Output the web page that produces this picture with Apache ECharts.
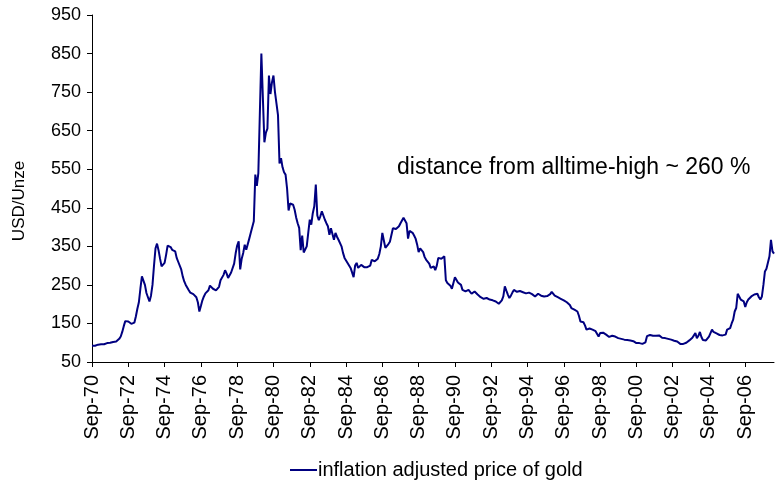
<!DOCTYPE html>
<html>
<head>
<meta charset="utf-8">
<script src="https://cdn.jsdelivr.net/npm/echarts@6/dist/echarts.min.js"></script>
<style>html,body{margin:0;padding:0;background:#fff}#c{width:776px;height:486px}</style>
</head>
<body>
<div id="c"></div>
<script>
// monthly, Sep-1970 .. Apr-2008
var startYear = 1970, startMonth = 8; // September (0-based)
var monthNames = ['Jan','Feb','Mar','Apr','May','Jun','Jul','Aug','Sep','Oct','Nov','Dec'];
var seriesName = 'inflation adjusted price of gold';
var yTicks = [50, 150, 250, 350, 450, 550, 650, 750, 850, 950];
var annotation = 'distance from alltime-high ~ 260 %';
var yAxisName = 'USD/Unze';

var goldPrice = [
 92, 93, 92, 94, 95, 94, 96, 97, 96, 98, 99, 98,
 100, 101, 102, 101, 103, 106, 110, 116, 128, 143, 156, 158,
 155, 152, 149, 150, 152, 168, 188, 205, 240, 272, 273, 250,
 229, 218, 207, 222, 250, 300, 345, 357, 340, 318, 298, 303,
 307, 328, 352, 354, 348, 341, 345, 337, 320, 310, 307, 290,
 272, 259, 250, 250, 236, 230, 228, 226, 222, 218, 205, 181,
 195, 210, 220, 228, 224, 236, 248, 244, 240, 235, 236, 234,
 245, 262, 265, 276, 288, 280, 268, 275, 282, 280, 305, 332,
 352, 363, 290, 318, 333, 354, 341, 345, 370, 385, 386, 415,
 536, 507, 540, 545, 850, 855, 620, 645, 655, 793, 745, 775,
 793, 750, 720, 690, 565, 579, 555, 542, 536, 500, 443, 461,
 460, 458, 445, 425, 410, 398, 340, 378, 334, 330, 350, 385,
 419, 406, 436, 454, 510, 430, 418, 428, 441, 430, 419, 410,
 402, 380, 397, 395, 367, 385, 375, 367, 372, 350, 333, 320,
 324, 307, 305, 294, 289, 270, 300, 307, 294, 298, 302, 298,
 296, 299, 296, 298, 300, 315, 310, 311, 314, 318, 330, 350,
 385, 365, 346, 350, 356, 362, 367, 397, 396, 395, 398, 402,
 410, 415, 424, 420, 410, 370, 390, 388, 385, 378, 370, 355,
 335, 345, 350, 335, 322, 315, 311, 305, 294, 296, 298, 288,
 300, 320, 322, 318, 323, 324, 262, 255, 252, 248, 240, 255,
 270, 274, 256, 252, 250, 237, 240, 233, 235, 237, 232, 227,
 230, 233, 228, 225, 222, 218, 216, 214, 212, 216, 220, 212,
 212, 210, 209, 207, 205, 201, 199, 210, 220, 246, 235, 225,
 216, 222, 230, 237, 233, 232, 230, 234, 229, 231, 232, 228,
 232, 230, 228, 226, 224, 220, 225, 227, 225, 222, 221, 220,
 220, 221, 222, 226, 232, 228, 222, 220, 218, 216, 214, 212,
 210, 207, 205, 203, 198, 190, 188, 186, 184, 181, 170, 155,
 152, 153, 145, 134, 136, 137, 136, 134, 133, 130, 129, 116,
 125, 129, 126, 122, 121, 118, 115, 116, 118, 119, 116, 112,
 112, 111, 110, 109, 108, 109, 107, 106, 106, 103, 104, 101,
 99, 98, 99, 97, 97, 99, 101, 117, 121, 120, 121, 118,
 119, 118, 120, 119, 115, 113, 112, 112, 110, 110, 109, 108,
 106, 105, 104, 103, 100, 97, 97, 97, 96, 100, 103, 106,
 110, 113, 115, 125, 112, 118, 128, 115, 107, 108, 106, 110,
 116, 125, 134, 128, 123, 124, 125, 120, 116, 119, 121, 121,
 134, 136, 138, 150, 160, 181, 190, 227, 222, 212, 210, 207,
 193, 205, 212, 216, 220, 222, 225, 226, 227, 218, 212, 220,
 250, 285, 292, 294, 324, 367, 337, 331
];

var categories = [];
for (var i = 0; i < goldPrice.length; i++) {
  var mi = startMonth + i;
  var y = startYear + Math.floor(mi / 12);
  var yy = String(y % 100);
  if (yy.length < 2) yy = '0' + yy;
  categories.push(monthNames[mi % 12] + '-' + yy);
}

var FONT = '"Liberation Sans", Arial, sans-serif';
var chart = echarts.init(document.getElementById('c'), null, {renderer: 'canvas'});
chart.setOption({
  animation: false,
  backgroundColor: '#ffffff',
  grid: {left: 92, right: 2, top: 15, bottom: 124, containLabel: false},
  xAxis: {
    type: 'category',
    data: categories,
    boundaryGap: false,
    axisLine: {lineStyle: {color: '#000', width: 1}},
    axisTick: {show: true, length: 5, interval: function (idx) { return idx % 24 === 0; }, lineStyle: {color: '#000'}},
    axisLabel: {
      interval: function (idx) { return idx % 24 === 0; },
      rotate: 90, margin: 13, color: '#000', fontSize: 20, fontFamily: FONT
    },
    splitLine: {show: false}
  },
  yAxis: {
    type: 'value',
    min: yTicks[0], max: yTicks[yTicks.length - 1], interval: 100,
    axisLine: {show: true, lineStyle: {color: '#000', width: 1}},
    axisTick: {show: true, length: 5, lineStyle: {color: '#000'}},
    axisLabel: {margin: 11, color: '#000', fontSize: 18, fontFamily: FONT},
    splitLine: {show: false}
  },
  legend: {
    show: true, bottom: 1, left: 285,
    icon: 'rect', itemWidth: 27, itemHeight: 2, itemGap: 4,
    textStyle: {color: '#000', fontSize: 20, fontFamily: FONT, padding: [0,0,0,-4]},
    data: [seriesName]
  },
  graphic: [{
    type: 'text', left: 397, top: 156,
    style: {text: annotation, fill: '#000', font: '23px ' + FONT}
  }, {
    type: 'text', x: 11, y: 201, rotation: Math.PI / 2,
    style: {text: yAxisName, fill: '#000', font: '17px ' + FONT, align: 'center', verticalAlign: 'top'}
  }],
  series: [{
    name: seriesName,
    type: 'line',
    data: goldPrice,
    symbol: 'none',
    lineStyle: {color: '#000080', width: 2},
    itemStyle: {color: '#000080'}
  }]
});
</script>
</body>
</html>
